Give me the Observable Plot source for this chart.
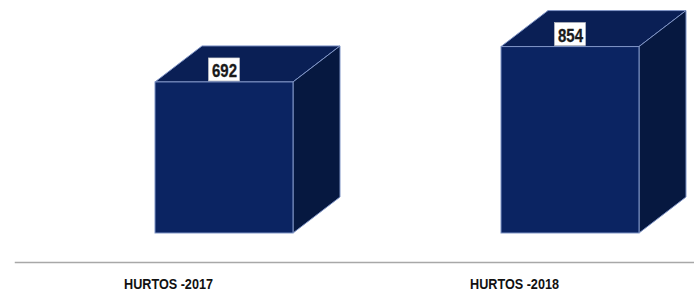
<!DOCTYPE html>
<html>
<head>
<meta charset="utf-8">
<script src="https://cdn.jsdelivr.net/npm/d3@7"></script>
<script src="https://cdn.jsdelivr.net/npm/@observablehq/plot@0.6"></script>
<style>
  html, body { margin: 0; padding: 0; background: #ffffff; }
  #chart svg { display: block; }
</style>
</head>
<body>
<div id="chart"></div>
<script>
const categories = ["HURTOS -2017", "HURTOS -2018"];
const values = [692, 854];
const valueLabels = ["692", "854"];

const data = categories.map((c, i) => ({category: c, value: values[i], label: valueLabels[i]}));

const frontColor = "#0b2462";
const topColor = "#0a1f55";
const sideColor = "#061840";
const edgeColor = "#7f94c6";
const font = "'Liberation Sans', Arial, sans-serif";

function cubes(index, scales) {
  const x = scales.x, y = scales.y;
  const g = d3.create("svg:g");
  const depthX = 47, depthY = -36;
  data.forEach(d => {
    const cx = x(d.category);
    const x1 = cx - 13, x2 = cx + 125;
    const y0 = y(0), y1 = y(d.value);
    g.append("path")
      .attr("d", `M${x1},${y1}L${x1 + depthX},${y1 + depthY}L${x2 + depthX},${y1 + depthY}L${x2},${y1}Z`)
      .attr("fill", topColor).attr("stroke", edgeColor).attr("stroke-width", 1).attr("stroke-linejoin", "round");
    g.append("path")
      .attr("d", `M${x2},${y1}L${x2 + depthX},${y1 + depthY}L${x2 + depthX},${y0 + depthY}L${x2},${y0}Z`)
      .attr("fill", sideColor).attr("stroke", edgeColor).attr("stroke-width", 1).attr("stroke-linejoin", "round");
    g.append("rect")
      .attr("x", x1).attr("y", y1).attr("width", x2 - x1).attr("height", y0 - y1)
      .attr("fill", frontColor).attr("stroke", edgeColor).attr("stroke-width", 1);
    const fc = (x1 + x2) / 2;
    g.append("rect")
      .attr("x", fc - 15.5).attr("y", y1 - 24).attr("width", 31).attr("height", 23)
      .attr("fill", "#ffffff").attr("stroke", "#c8c8c8").attr("stroke-width", 0.6);
  });
  return g.node();
}

const chart = Plot.plot({
  width: 694,
  height: 291,
  marginLeft: 15,
  marginRight: 0,
  marginTop: 0,
  marginBottom: 29,
  x: {type: "point", domain: categories, range: [-5, 687], padding: 0.5},
  y: {domain: [0, 1000], range: [233, 14.7], axis: null},
  marks: [
    Plot.frame({anchor: "bottom", stroke: "#a8a8a8", strokeWidth: 1.5}),
    cubes,
    Plot.text(data, {
      x: "category", y: "value", text: "label",
      dx: 56, dy: -11,
      fontFamily: font,
      fontWeight: "bold", fontSize: 17.5, fill: "#1a1a1a",
      stroke: "#1a1a1a", strokeWidth: 0.3
    }),
    Plot.axisX({
      tickSize: 0, tickPadding: 15, label: null,
      fontFamily: font,
      fontWeight: "bold", fontSize: 15.5, fill: "#111111",
      stroke: "#111111", strokeWidth: 0.35
    })
  ]
});

// condense the bold texts to the narrow widths of the reference
d3.select(chart).selectAll("text").each(function() {
  const t = this.textContent;
  if (categories.includes(t)) {
    d3.select(this).attr("textLength", 89).attr("lengthAdjust", "spacingAndGlyphs");
  } else if (valueLabels.includes(t)) {
    d3.select(this).attr("textLength", 25).attr("lengthAdjust", "spacingAndGlyphs");
  }
});

document.getElementById("chart").appendChild(chart);
</script>
</body>
</html>
